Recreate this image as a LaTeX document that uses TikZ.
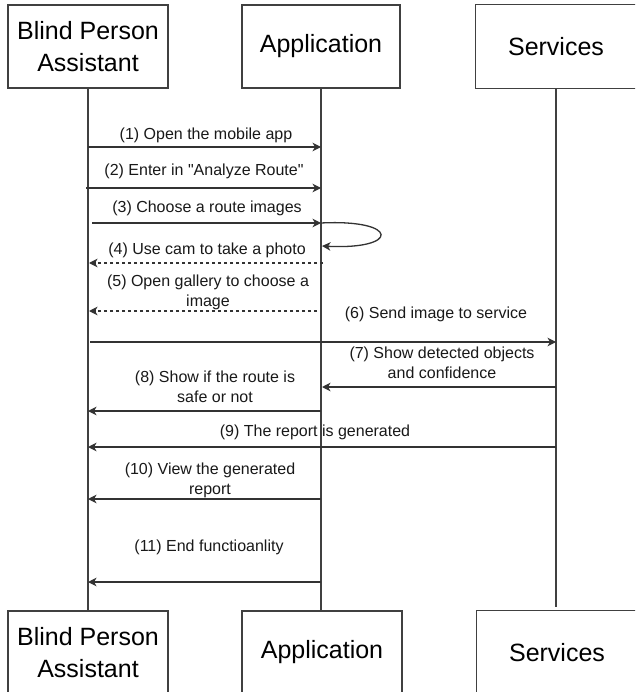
\documentclass[tikz,border=0pt]{standalone}
\usepackage{fontspec}
\setmainfont{Liberation Sans}[Ligatures=TeXOff]
\usetikzlibrary{arrows.meta}
\begin{document}
\begin{tikzpicture}[x=1pt,y=-1pt,
  actor/.style={draw=black!75, line width=1.3pt, fill=white, minimum width=160pt, minimum height=83pt, inner sep=0pt, align=center, font=\fontsize{25}{32}\selectfont, text=black},
  openbox/.style={actor, draw=none},
  boxline/.style={draw=black!75, line width=1.3pt},
  life/.style={draw=black!75, line width=1.2pt},
  msg/.style={draw=black!80, line width=1.3pt, -{Stealth[length=8.5pt,width=8.5pt,inset=2.5pt]}},
  ret/.style={msg, dash pattern=on 3pt off 3pt},
  lbl/.style={font=\fontsize{16}{20}\selectfont, align=center, text=black!90, inner sep=0pt}]
\useasboundingbox (0,0) rectangle (635,692);
\clip (0,0) rectangle (635,692);
\fill[white] (0,0) rectangle (635,692);

% lifeline end points
\coordinate (la) at (88,88);
\coordinate (lab) at (88,611);
\coordinate (lb) at (321,88);
\coordinate (lbb) at (321,611);
\coordinate (lc) at (556,88);
\coordinate (lcb) at (556,607);
\draw[life] (la) -- (lab);
\draw[life] (lb) -- (lbb);
\draw[life] (lc) -- (lcb);

% actor boxes
\node[actor] (bpa) at (88,46.5) {Blind Person\\Assistant};
\node[actor, minimum width=158pt] (app) at (321,46.5) {Application};
\node[openbox] (srv) at (556,46.5) {Services};
\draw[boxline] (srv.south west) rectangle ([xshift=12pt]srv.north east);
\node[actor] (bpab) at (88,652.5) {Blind Person\\Assistant};
\node[actor, minimum width=160pt] (appb) at (322,652.5) {Application};
\node[openbox] (srvb) at (557,652.5) {Services};
\draw[boxline] (srvb.south west) rectangle ([xshift=12pt]srvb.north east);

% message end points
\coordinate (m1a) at (88,147);  \coordinate (m1b) at (321,147);
\coordinate (m2a) at (86,188);  \coordinate (m2b) at (321,188);
\coordinate (m3a) at (92,223);  \coordinate (m3b) at (321,223);
\coordinate (m3c) at (322,246);
\coordinate (m4a) at (89,263);  \coordinate (m4b) at (323,263);
\coordinate (m5a) at (89,311);  \coordinate (m5b) at (317,311);
\coordinate (m6a) at (90,342);  \coordinate (m6b) at (556,342);
\coordinate (m7a) at (322,387); \coordinate (m7b) at (556,387);
\coordinate (m8a) at (88,411);  \coordinate (m8b) at (321,411);
\coordinate (m9a) at (88,447);  \coordinate (m9b) at (556,447);
\coordinate (m10a) at (88,499); \coordinate (m10b) at (321,499);
\coordinate (m11a) at (88,582); \coordinate (m11b) at (321,582);

% messages
\draw[msg] (m1a) -- (m1b);
\draw[msg] (m2a) -- (m2b);
\draw[msg] (m3a) -- (m3b);
\draw[msg] (m3b) .. controls (400,219) and (400,250) .. (m3c);
\draw[ret] (m4b) -- (m4a);
\draw[ret] (m5b) -- (m5a);
\draw[msg] (m6a) -- (m6b);
\draw[msg] (m7b) -- (m7a);
\draw[msg] (m8b) -- (m8a);
\draw[msg] (m9b) -- (m9a);
\draw[msg] (m10b) -- (m10a);
\draw[msg] (m11b) -- (m11a);

% labels
\node[lbl] (t1) at (206,135) {(1) Open the mobile app};
\node[lbl] (t2) at (204,171) {(2) Enter in "Analyze Route"};
\node[lbl] (t3) at (207,208) {(3) Choose a route images};
\node[lbl] (t4) at (207,250) {(4) Use cam to take a photo};
\node[lbl] (t5) at (208,292) {(5) Open gallery to choose a\\image};
\node[lbl] (t6) at (436,314) {(6) Send image to service};
\node[lbl] (t7) at (442,363) {(7) Show detected objects\\and confidence};
\node[lbl] (t8) at (215,387) {(8) Show if the route is\\safe or not};
\node[lbl] (t9) at (315,432) {(9) The report is generated};
\node[lbl] (t10) at (210,480) {(10) View the generated\\report};
\node[lbl] (t11) at (209,547) {(11) End functioanlity};
\end{tikzpicture}
\end{document}
